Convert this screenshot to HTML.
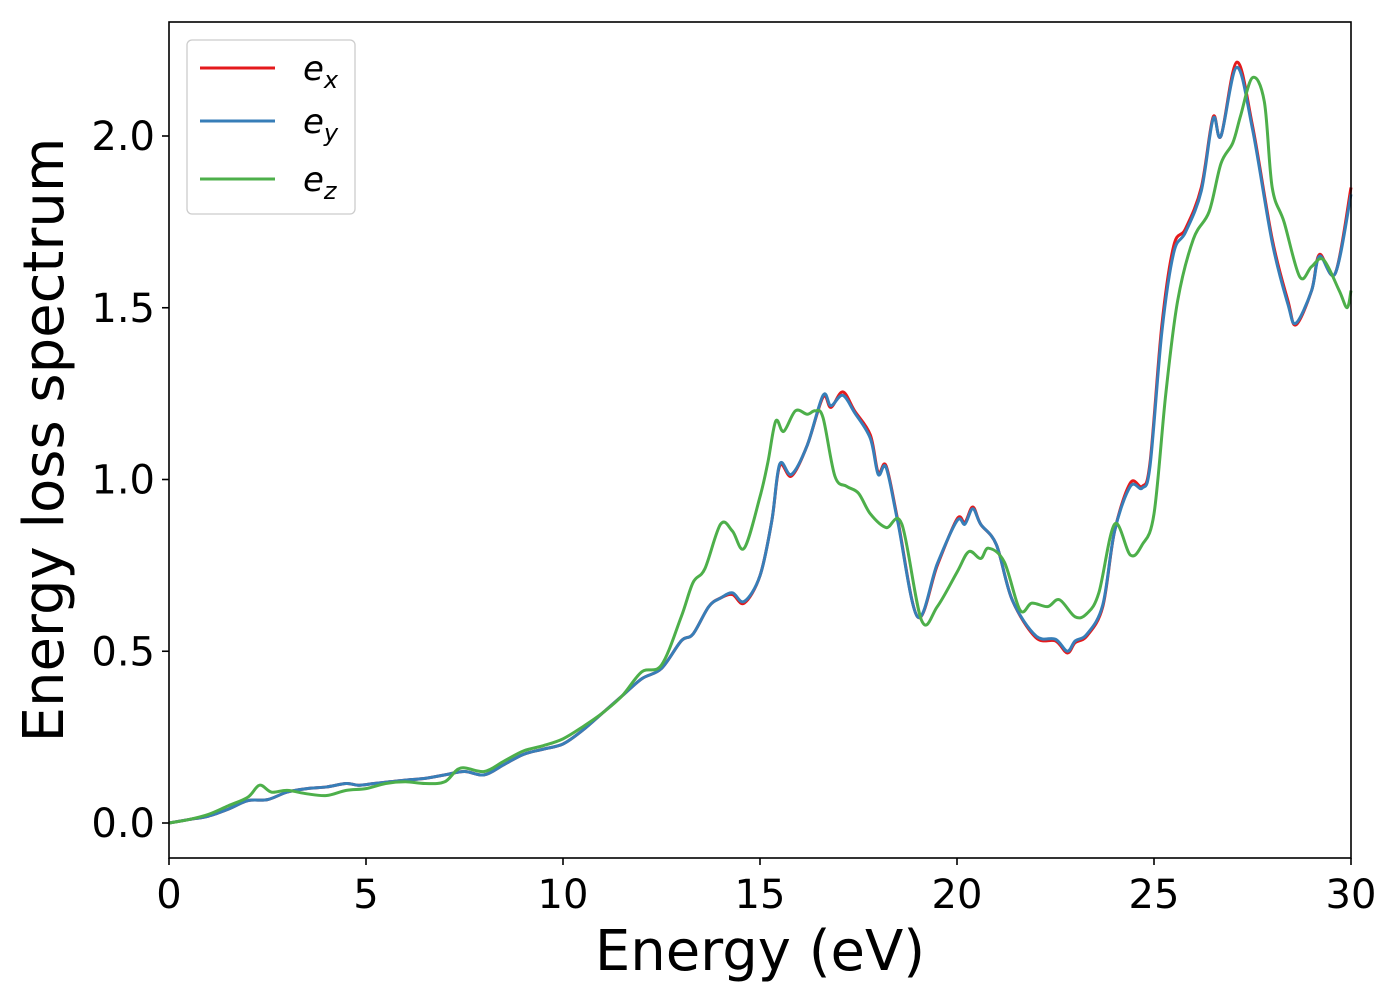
<!DOCTYPE html>
<html><head><meta charset="utf-8">
<style>
html,body{margin:0;padding:0;background:#fff;}
svg{display:block;font-family:"DejaVu Sans","Liberation Sans",sans-serif;}
</style></head>
<body>
<svg id="chart" width="1400" height="1000" viewBox="0 0 1400 1000">
<rect x="0" y="0" width="1400" height="1000" fill="#fff"/>
<g id="lines"></g>
<rect x="169" y="22" width="1182" height="836" fill="none" stroke="#000" stroke-width="1.6"/>
<g id="xticks"></g>
<g id="yticks"></g>
<text x="760" y="970" font-size="56" text-anchor="middle">Energy (eV)</text>
<text transform="translate(63,440) rotate(-90)" font-size="56" text-anchor="middle">Energy loss spectrum</text>
<g>
<rect x="187" y="40" width="168" height="174" rx="5" fill="#fff" fill-opacity="0.8" stroke="#ccc" stroke-width="1.3"/>
<g>
<line x1="200" y1="68" x2="275" y2="68" stroke="#e41a1c" stroke-width="3"/>
<text x="303" y="80" font-size="34" font-style="italic">e<tspan font-size="24" dy="8">x</tspan></text>
</g>
<g>
<line x1="200" y1="121" x2="275" y2="121" stroke="#377eb8" stroke-width="3"/>
<text x="303" y="133" font-size="34" font-style="italic">e<tspan font-size="24" dy="8">y</tspan></text>
</g>
<g>
<line x1="200" y1="179" x2="275" y2="179" stroke="#4daf4a" stroke-width="3"/>
<text x="303" y="191" font-size="34" font-style="italic">e<tspan font-size="24" dy="8">z</tspan></text>
</g>
</g>
</svg>
<script>
const energyXY = [0,0.5,1,1.5,2,2.5,3,3.5,4,4.5,4.8,5.2,5.6,6,6.5,7,7.5,8,8.5,9,9.5,10,10.5,11,11.5,12,12.5,13,13.3,13.7,14,14.3,14.6,15,15.3,15.5,15.8,16.2,16.6,16.8,17.1,17.4,17.8,18.0,18.2,18.5,19.0,19.5,20,20.2,20.4,20.6,21,21.4,22,22.5,22.8,23,23.3,23.7,24,24.4,24.7,24.9,25.2,25.5,25.8,26.2,26.5,26.7,27.1,27.5,28,28.4,28.6,29,29.2,29.6,30];
const exValues = [0,0.01,0.02,0.04,0.065,0.068,0.09,0.1,0.105,0.115,0.11,0.115,0.12,0.125,0.13,0.14,0.15,0.14,0.17,0.2,0.215,0.23,0.27,0.32,0.37,0.42,0.45,0.53,0.55,0.63,0.655,0.665,0.64,0.72,0.88,1.04,1.01,1.1,1.24,1.21,1.255,1.2,1.13,1.02,1.04,0.88,0.6,0.75,0.885,0.875,0.92,0.87,0.81,0.65,0.54,0.53,0.495,0.525,0.545,0.63,0.85,0.99,0.98,1.05,1.45,1.68,1.73,1.85,2.055,2.0,2.215,2.03,1.7,1.52,1.45,1.55,1.655,1.6,1.85];
const eyValues = [0,0.01,0.02,0.04,0.065,0.068,0.09,0.1,0.105,0.115,0.11,0.115,0.12,0.125,0.13,0.14,0.15,0.14,0.17,0.2,0.215,0.23,0.27,0.32,0.37,0.42,0.45,0.53,0.55,0.63,0.655,0.67,0.645,0.72,0.88,1.045,1.015,1.1,1.245,1.215,1.245,1.195,1.12,1.015,1.035,0.875,0.6,0.755,0.88,0.87,0.915,0.87,0.81,0.65,0.545,0.535,0.5,0.53,0.55,0.635,0.85,0.98,0.975,1.04,1.43,1.66,1.72,1.84,2.05,2.0,2.2,2.02,1.69,1.51,1.455,1.55,1.65,1.6,1.83];
const energyZ = [0,0.5,1,1.5,2,2.3,2.6,3,3.5,4,4.5,5,5.5,6,6.5,7,7.4,8,8.5,9,9.5,10,10.5,11,11.5,12,12.5,13,13.3,13.6,14,14.3,14.6,15,15.2,15.4,15.6,15.9,16.2,16.4,16.6,16.9,17.2,17.5,17.8,18.2,18.6,19.1,19.5,20,20.3,20.6,20.8,21.2,21.6,21.9,22.3,22.6,23,23.3,23.6,24,24.4,24.7,25,25.3,25.6,26,26.4,26.7,27,27.2,27.5,27.8,28,28.3,28.7,29,29.3,29.7,29.9,30];
const ezValues = [0,0.01,0.025,0.05,0.075,0.11,0.09,0.095,0.085,0.08,0.095,0.1,0.115,0.12,0.115,0.12,0.16,0.15,0.18,0.21,0.225,0.245,0.28,0.32,0.37,0.44,0.46,0.6,0.7,0.74,0.87,0.85,0.8,0.95,1.05,1.17,1.14,1.2,1.19,1.2,1.18,1.01,0.98,0.96,0.9,0.86,0.87,0.59,0.63,0.73,0.79,0.77,0.8,0.76,0.62,0.64,0.63,0.65,0.6,0.61,0.67,0.87,0.78,0.81,0.9,1.25,1.52,1.7,1.78,1.92,1.98,2.06,2.17,2.1,1.85,1.75,1.59,1.62,1.64,1.55,1.5,1.55];
const xTickLabels = ["0","5","10","15","20","25","30"];
const yTickLabels = ["0.0","0.5","1.0","1.5","2.0"];

const NS = "http://www.w3.org/2000/svg";
const X0 = 169, X1 = 1351, XMIN = 0, XMAX = 30;
const Y0PIX = 823, YPER = 343.5;
function xs(v){ return X0 + (v - XMIN) / (XMAX - XMIN) * (X1 - X0); }
function ys(v){ return Y0PIX - v * YPER; }

function smoothPath(xa, ya){
  const p = xa.map((x,i)=>[xs(x), ys(ya[i])]);
  let d = "M" + p[0][0].toFixed(2) + "," + p[0][1].toFixed(2);
  for (let i=0;i<p.length-1;i++){
    const a=p[Math.max(0,i-1)], b=p[i], c=p[i+1], e=p[Math.min(p.length-1,i+2)];
    const c1=[b[0]+(c[0]-a[0])/6, b[1]+(c[1]-a[1])/6];
    const c2=[c[0]-(e[0]-b[0])/6, c[1]-(e[1]-b[1])/6];
    d += " C"+c1[0].toFixed(2)+","+c1[1].toFixed(2)+" "+c2[0].toFixed(2)+","+c2[1].toFixed(2)+" "+c[0].toFixed(2)+","+c[1].toFixed(2);
  }
  return d;
}
const lines = document.getElementById("lines");
function addLine(xa, ya, color, name){
  const p = document.createElementNS(NS,"path");
  p.setAttribute("d", smoothPath(xa, ya));
  p.setAttribute("fill","none");
  p.setAttribute("stroke",color);
  p.setAttribute("stroke-width","3");
  p.setAttribute("stroke-linejoin","round");
  
  
  lines.appendChild(p);
}
addLine(energyXY, exValues, "#e41a1c", "series-ex-line");
addLine(energyXY, eyValues, "#377eb8", "series-ey-line");
addLine(energyZ, ezValues, "#4daf4a", "series-ez-line");

const xt = document.getElementById("xticks");
xTickLabels.forEach(lbl=>{
  const x = xs(parseFloat(lbl));
  const l = document.createElementNS(NS,"line");
  l.setAttribute("x1",x); l.setAttribute("x2",x); l.setAttribute("y1",858); l.setAttribute("y2",865);
  l.setAttribute("stroke","#000"); l.setAttribute("stroke-width","1.6");
  
  
  xt.appendChild(l);
  const t = document.createElementNS(NS,"text");
  t.setAttribute("x",x); t.setAttribute("y",908); t.setAttribute("font-size","40"); t.setAttribute("text-anchor","middle");
  t.textContent = lbl;
  
  
  xt.appendChild(t);
});
const yt = document.getElementById("yticks");
yTickLabels.forEach(lbl=>{
  const y = ys(parseFloat(lbl));
  const l = document.createElementNS(NS,"line");
  l.setAttribute("x1",162); l.setAttribute("x2",169); l.setAttribute("y1",y); l.setAttribute("y2",y);
  l.setAttribute("stroke","#000"); l.setAttribute("stroke-width","1.6");
  
  
  yt.appendChild(l);
  const t = document.createElementNS(NS,"text");
  t.setAttribute("x",155); t.setAttribute("y",y+14); t.setAttribute("font-size","40"); t.setAttribute("text-anchor","end");
  t.textContent = lbl;
  
  
  yt.appendChild(t);
});
</script>
</body></html>
